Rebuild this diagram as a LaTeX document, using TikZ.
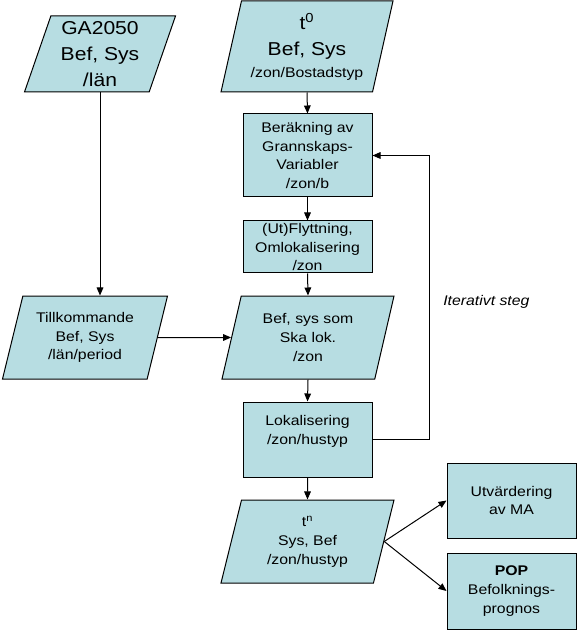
\documentclass[tikz,border=0pt]{standalone}
\usepackage{fontspec}
\setmainfont{Liberation Sans}[FakeStretch=1.13]
\usetikzlibrary{shapes.geometric,arrows.meta}

\definecolor{flowfill}{RGB}{183,221,226}
\newcommand{\bigtxt}{\fontsize{14pt}{19.5pt}\selectfont}
\newcommand{\smalltxt}{\fontsize{10.5pt}{14pt}\selectfont}

\tikzset{
  procbox/.style={draw, fill=flowfill, line width=0.75pt, minimum width=96.75pt, align=center, inner sep=0pt, font=\smalltxt},
  databox/.style={draw, fill=flowfill, line width=0.75pt, trapezium, trapezium left angle=68, trapezium right angle=112, trapezium stretches body, align=center, inner sep=0pt, font=\smalltxt},
  flowarrow/.style={line width=0.75pt, -{Triangle[length=6pt,width=5pt]}}
}

\begin{document}
\begin{tikzpicture}[x=0.75pt,y=0.75pt,yscale=-1,xscale=1]
        \useasboundingbox (0,0) rectangle (577,630); %diagram is 577 wide, 630 high

        %Shape: Parallelogram [GA2050]
        \node[databox, font=\bigtxt, minimum width=113.25pt, minimum height=57pt] (ga) at (100,54) {GA2050\\Bef, Sys\\/län};
        %Shape: Parallelogram [t0]
        \node[databox, font=\bigtxt, trapezium left angle=73, trapezium right angle=107, minimum width=129pt, minimum height=68.25pt] (tzero) at (307,46.5) {t\textsuperscript{0}\\Bef, Sys\\[-3pt]{\smalltxt /zon/Bostadstyp}};
        %Shape: Rectangle [grannskap]
        \node[procbox, minimum height=62.25pt] (calc) at (307.5,155.5) {Beräkning av\\Grannskaps-\\Variabler\\/zon/b};
        %Shape: Rectangle [flyttning]
        \node[procbox, minimum height=39pt] (move) at (307.5,247) {(Ut)Flyttning,\\Omlokalisering\\/zon};
        %Shape: Parallelogram [tillkommande]
        \node[databox, minimum width=123.75pt, minimum height=62.25pt] (extra) at (85,337.5) {Tillkommande\\Bef, Sys\\/län/period};
        %Shape: Parallelogram [ska lok.]
        \node[databox, minimum width=129pt, minimum height=62.25pt] (toloc) at (308,337.5) {Bef, sys som\\Ska lok.\\/zon};
        %Shape: Rectangle [lokalisering]
        \node[procbox, minimum height=56.25pt] (locate) at (307.5,439.5) {Lokalisering\\/zon/hustyp\\~};
        %Shape: Parallelogram [tn]
        \node[databox, minimum width=129.75pt, minimum height=62.25pt] (tn) at (307.5,541.5) {t\textsuperscript{n}\\Sys, Bef\\/zon/hustyp};
        %Shape: Rectangle [utvardering]
        \node[procbox, minimum height=56.25pt] (eval) at (511.5,500.5) {Utvärdering\\av MA};
        %Shape: Rectangle [pop]
        \node[procbox, minimum height=57pt] (pop) at (511.5,591) {\textbf{POP}\\Befolknings-\\prognos};

        %Straight Lines
        \draw[flowarrow] (tzero.south) -- (calc.north);
        \draw[flowarrow] (calc.south) -- (move.north);
        \draw[flowarrow] (move.south) -- (toloc.north);
        \draw[flowarrow] (toloc.south) -- (locate.north);
        \draw[flowarrow] (locate.south) -- (tn.north);
        \draw[flowarrow] (ga.south) -- (ga.south |- extra.north);
        \draw[flowarrow] (extra.east) -- (toloc.west);
        \draw[flowarrow] (tn.east) -- (eval.west);
        \draw[flowarrow] (tn.east) -- (pop.west);
        %Loop back
        \coordinate (loopx) at (429,300);
        \draw[flowarrow] (locate.east) -- (locate.east -| loopx) |- (calc.east);

        % Text Node
        \node[font=\smalltxt\itshape, anchor=west, inner sep=0pt] (iter) at (443,302) {Iterativt steg};

\end{tikzpicture}
\end{document}
